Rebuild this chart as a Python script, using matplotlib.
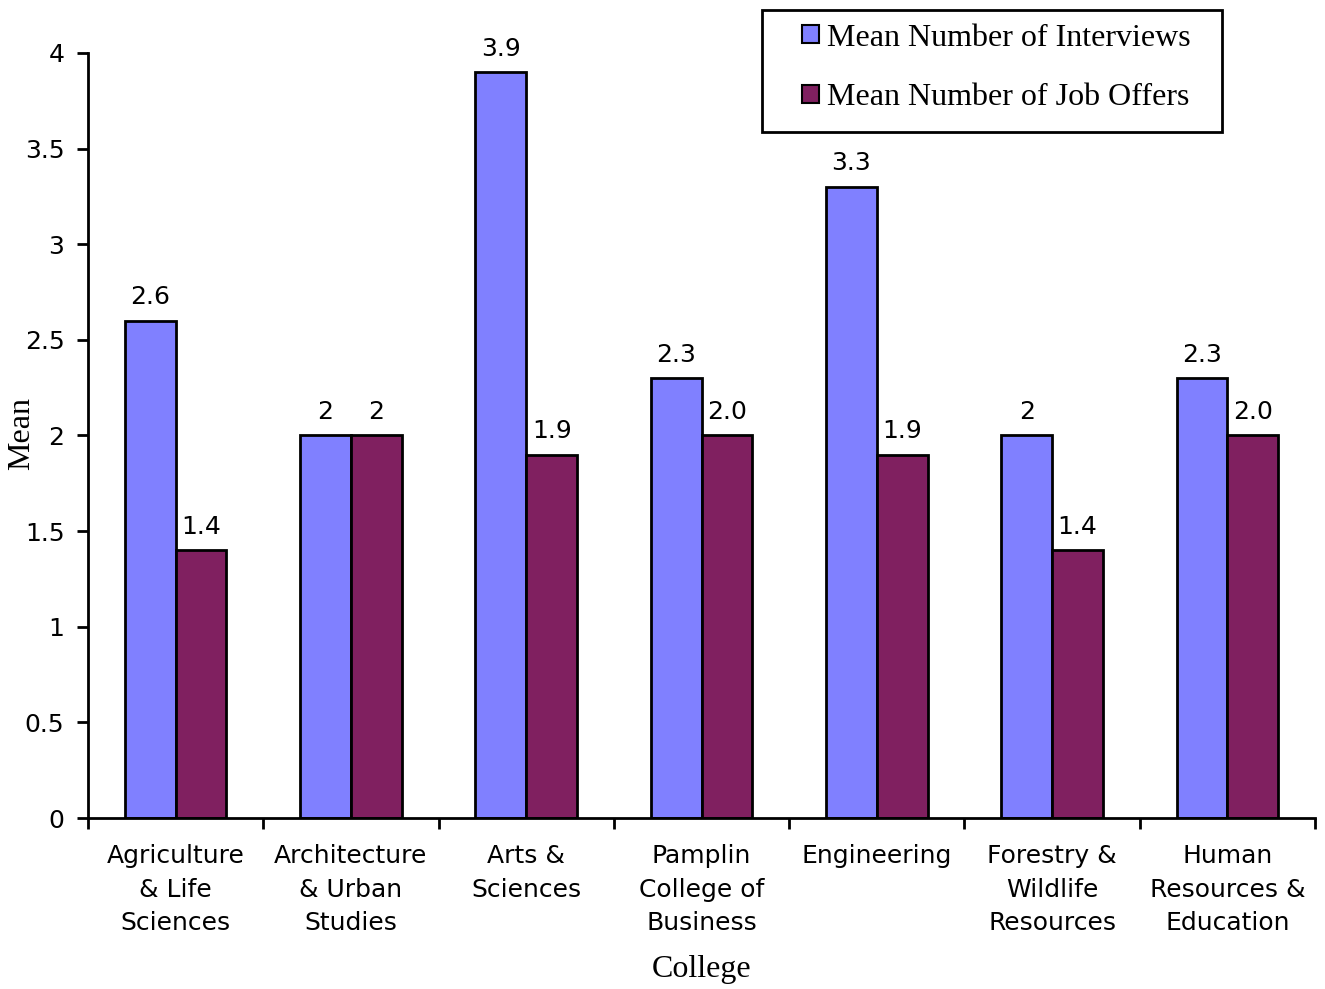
import matplotlib
matplotlib.use("Agg")
import matplotlib.pyplot as plt
from matplotlib.patches import Rectangle
import numpy as np

categories = ["Agriculture\n& Life\nSciences", "Architecture\n& Urban\nStudies", "Arts &\nSciences",
              "Pamplin\nCollege of\nBusiness", "Engineering", "Forestry &\nWildlife\nResources",
              "Human\nResources &\nEducation"]
interviews = [2.6, 2.0, 3.9, 2.3, 3.3, 2.0, 2.3]
offers = [1.4, 2.0, 1.9, 2.0, 1.9, 1.4, 2.0]
interview_labels = ["2.6", "2", "3.9", "2.3", "3.3", "2", "2.3"]
offer_labels = ["1.4", "2", "1.9", "2.0", "1.9", "1.4", "2.0"]
yticks = [0, 0.5, 1, 1.5, 2, 2.5, 3, 3.5, 4]
ytick_labels = ["0", "0.5", "1", "1.5", "2", "2.5", "3", "3.5", "4"]

W, H = 1325, 989
fig = plt.figure(figsize=(W/100, H/100), dpi=100)
AX_L, AX_R, AX_B, AX_T = 88, 1315, 818, 53
ax = fig.add_axes([AX_L/W, 1-AX_B/H, (AX_R-AX_L)/W, (AX_B-AX_T)/H])

x = np.arange(len(categories))
bw = 0.29
blue = "#8080FF"
purple = "#802060"
ax.bar(x - bw/2, interviews, bw, color=blue, edgecolor="black", linewidth=2, label="Mean Number of Interviews")
ax.bar(x + bw/2, offers, bw, color=purple, edgecolor="black", linewidth=2, label="Mean Number of Job Offers")

tfont = "DejaVu Sans"
fs = 18
for xi, v, l in zip(x, interviews, interview_labels):
    ax.text(xi - bw/2, v + 0.06, l, ha="center", va="bottom", fontsize=fs, family=tfont)
for xi, v, l in zip(x, offers, offer_labels):
    ax.text(xi + bw/2, v + 0.06, l, ha="center", va="bottom", fontsize=fs, family=tfont)

ax.set_xlim(-0.5, len(categories) - 0.5)
ax.set_ylim(0, 4)
ax.set_yticks(yticks)
ax.set_yticklabels(ytick_labels, fontsize=fs, family=tfont)
ax.set_xticks(x)
ax.set_xticklabels(categories, fontsize=fs, family=tfont, linespacing=1.5)
ax.tick_params(axis="x", length=0, pad=19)
ax.set_xticks(np.arange(-0.5, len(categories)), minor=True)
ax.tick_params(axis="x", which="minor", length=8, width=2, direction="out")
ax.tick_params(axis="y", length=8, width=2, direction="out", pad=9)
for s in ["top", "right"]:
    ax.spines[s].set_visible(False)
for s in ["left", "bottom"]:
    ax.spines[s].set_linewidth(2)

ax.set_ylabel("Mean", fontsize=23, family="Liberation Serif", va="center")
ax.yaxis.set_label_coords((22 - AX_L) / (AX_R - AX_L), 0.5 - (434 - (AX_B + AX_T) / 2) / (AX_B - AX_T))
ax.set_xlabel("College", fontsize=23, family="Liberation Serif", va="center")
ax.xaxis.set_label_coords(0.5, -(970 - AX_B) / (AX_B - AX_T))

fig.patches.append(Rectangle((762/W, 1-132/H), (1222-762)/W, (132-10)/H, transform=fig.transFigure,
                             fill=False, edgecolor="black", linewidth=2))
leg = ax.legend(loc="center left", bbox_to_anchor=(802/W, 1-68/H), bbox_transform=fig.transFigure,
                prop={"family": "Liberation Serif", "size": 23}, frameon=False,
                handlelength=0.52, handleheight=0.52, handletextpad=0.25,
                borderpad=0, labelspacing=0.97, borderaxespad=0)
for h in leg.legend_handles:
    h.set_linewidth(1.5)

fig.savefig("out.png", dpi=100)
